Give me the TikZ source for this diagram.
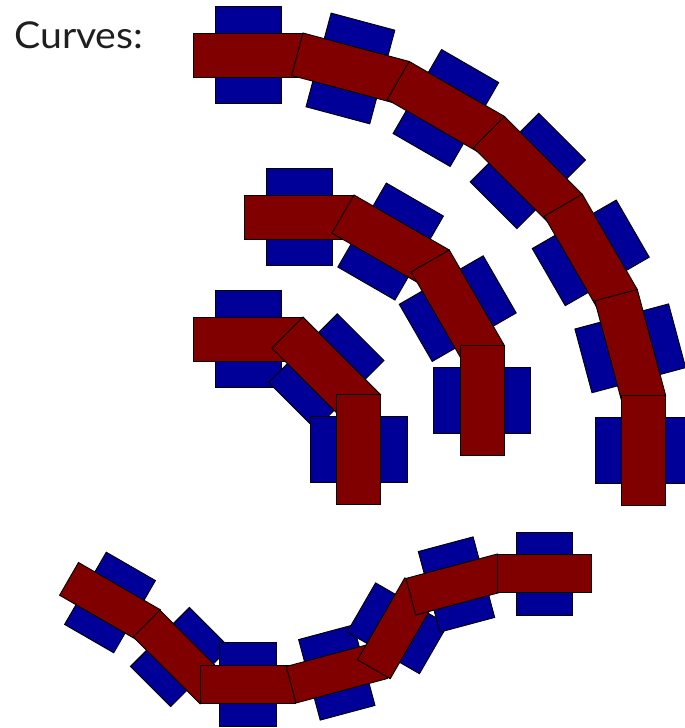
\documentclass[tikz,border=0pt]{standalone}
\usepackage{fontspec}
\setmainfont{Lato}
\definecolor{tiecol}{RGB}{0,0,153}
\definecolor{barcol}{RGB}{128,0,0}
\tikzset{
  tiepart/.style={fill=tiecol, draw=black, line width=0.9pt},
  barpart/.style={fill=barcol, draw=black, line width=0.9pt},
  tie/.pic={\path[tiepart] (-33,-48.5) rectangle (33,48.5);},
  bar/.pic={\path[barpart] (-55,-22) rectangle (55,22);},
}
\begin{document}
\begin{tikzpicture}[x=1pt,y=1pt]
\useasboundingbox (0,0) rectangle (685,728);
\node[anchor=base west, inner sep=0pt, font=\fontsize{37}{40}\selectfont, text=black!88] (title) at (14,679.7) {\scalebox{1.06}[1]{Curves:}};
% outer arc: 7 pieces, 15 degrees each
\begin{scope}[shift={(248,277.24)}]
  \foreach \i [evaluate=\i as \th using -\i*15] in {0,...,6} {\pic[rotate=\th] at (\th+90:395.76) {tie};}
  \foreach \i [evaluate=\i as \th using -\i*15] in {0,...,6} {\pic[rotate=\th] at (\th+90:395.76) {bar};}
\end{scope}
% middle arc: 4 pieces, 30 degrees each
\begin{scope}[shift={(299,327.74)}]
  \foreach \i [evaluate=\i as \th using -\i*30] in {0,...,3} {\pic[rotate=\th] at (\th+90:183.26) {tie};}
  \foreach \i [evaluate=\i as \th using -\i*30] in {0,...,3} {\pic[rotate=\th] at (\th+90:183.26) {bar};}
\end{scope}
% inner arc: 3 pieces, 45 degrees each
\begin{scope}[shift={(248,278.22)}]
  \foreach \i [evaluate=\i as \th using -\i*45] in {0,...,2} {\pic[rotate=\th] at (\th+90:110.78) {tie};}
  \foreach \i [evaluate=\i as \th using -\i*45] in {0,...,2} {\pic[rotate=\th] at (\th+90:110.78) {bar};}
\end{scope}
% wavy curve
\foreach \x/\y/\a in {110/125.5/-30, 180/71/-45, 248/43.5/0, 336.8/55.5/15, 397.5/99.7/60, 456.5/143.5/15, 544.5/154.3/0}
  {\pic[rotate=\a, scale=0.86] at (\x,\y) {tie};}
\foreach \x/\y/\a in {110/125.5/-30, 180/71/-45, 248/43.5/0, 336.8/55.5/15, 397.5/99.7/60, 456.5/143.5/15, 544.5/154.3/0}
  {\pic[rotate=\a, scale=0.86] at (\x,\y) {bar};}
\end{tikzpicture}
\end{document}
